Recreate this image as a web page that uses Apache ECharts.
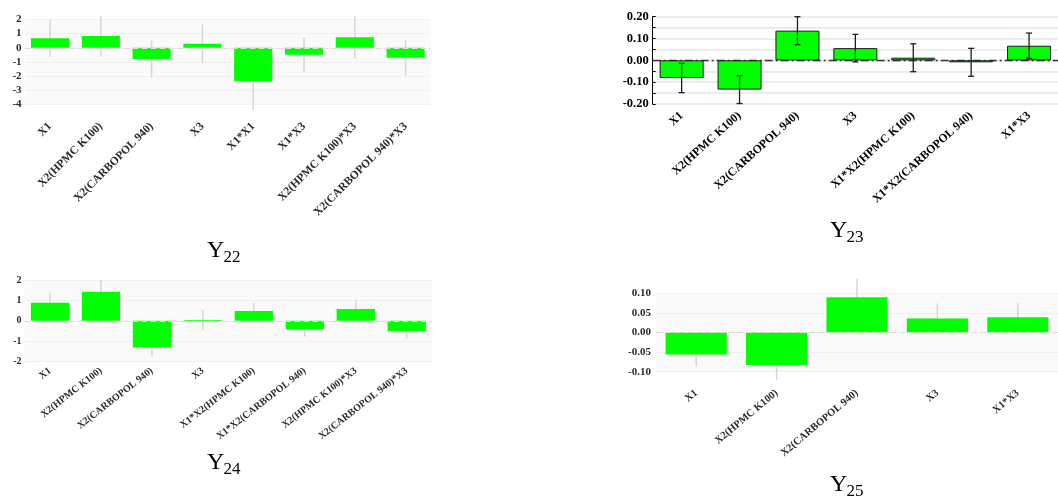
<!DOCTYPE html>
<html>
<head>
<meta charset="utf-8">
<script src="https://cdn.jsdelivr.net/npm/echarts@6/dist/echarts.min.js"></script>
<style>
  html, body { margin: 0; padding: 0; background: #fff; }
  #stage { position: relative; width: 1058px; height: 497px; overflow: hidden; }
  .panel { position: absolute; }
  .soft { filter: blur(0.75px); }
</style>
</head>
<body>
<div id="stage">
  <div id="titles" class="panel" style="left:0;top:0;width:1058px;height:497px"></div>
  <div id="p22" class="panel soft" style="left:0;top:0;width:529px;height:248px"></div>
  <div id="p23" class="panel" style="left:529px;top:0;width:529px;height:248px"></div>
  <div id="p24" class="panel soft" style="left:0;top:248px;width:529px;height:249px"></div>
  <div id="p25" class="panel soft" style="left:529px;top:248px;width:529px;height:249px"></div>
</div>
<script>
// ---- coefficient estimates (bars) and their error half-widths ----
const termsY22 = ['X1', 'X2(HPMC K100)', 'X2(CARBOPOL 940)', 'X3', 'X1*X1', 'X1*X3', 'X2(HPMC K100)*X3', 'X2(CARBOPOL 940)*X3'];
const effectY22 = [0.67, 0.83, -0.79, 0.28, -2.36, -0.49, 0.74, -0.70];
const errorY22 = [1.3, 1.45, 1.3, 1.35, 2.0, 1.2, 1.5, 1.25];
const axisY22 = [-4, 2, 1];            // min, max, step

const termsY23 = ['X1', 'X2(HPMC K100)', 'X2(CARBOPOL 940)', 'X3', 'X1*X2(HPMC K100)', 'X1*X2(CARBOPOL 940)', 'X1*X3'];
const effectY23 = [-0.081, -0.134, 0.136, 0.056, 0.012, -0.009, 0.067];
const errorY23 = [0.067, 0.064, 0.064, 0.063, 0.064, 0.064, 0.058];
const axisY23 = [-0.2, 0.2, 0.1];

const termsY24 = ['X1', 'X2(HPMC K100)', 'X2(CARBOPOL 940)', 'X3', 'X1*X2(HPMC K100)', 'X1*X2(CARBOPOL 940)', 'X2(HPMC K100)*X3', 'X2(CARBOPOL 940)*X3'];
const effectY24 = [0.89, 1.43, -1.30, 0.04, 0.48, -0.42, 0.58, -0.51];
const errorY24 = [0.5, 0.6, 0.45, 0.5, 0.4, 0.35, 0.45, 0.35];
const axisY24 = [-2, 2, 1];

const termsY25 = ['X1', 'X2(HPMC K100)', 'X2(CARBOPOL 940)', 'X3', 'X1*X3'];
const effectY25 = [-0.056, -0.083, 0.090, 0.036, 0.039];
const errorY25 = [0.03, 0.038, 0.048, 0.038, 0.037];
const axisY25 = [-0.1, 0.1, 0.05];

const responseSubs = ['22', '23', '24', '25'];

const SERIF = '"Liberation Serif", "Times New Roman", serif';

// vertical error bars drawn through the category centre
function errorBars(color, width, cap) {
  return function (params, api) {
    const i = api.value(0);
    const lo = api.coord([i, api.value(1)]);
    const hi = api.coord([i, api.value(2)]);
    const style = { stroke: color, lineWidth: width };
    const kids = [{ type: 'line', shape: { x1: lo[0], y1: lo[1], x2: hi[0], y2: hi[1] }, style }];
    if (cap > 0) {
      kids.push({ type: 'line', shape: { x1: lo[0] - cap, y1: lo[1], x2: lo[0] + cap, y2: lo[1] }, style });
      kids.push({ type: 'line', shape: { x1: hi[0] - cap, y1: hi[1], x2: hi[0] + cap, y2: hi[1] }, style });
    }
    return { type: 'group', children: kids };
  };
}

function errorData(vals, errs) {
  return vals.map((v, i) => [i, v - errs[i], v + errs[i]]);
}

// faded coefficient plot (no bar outlines, pale error lines)
function softPanel(id, terms, vals, errs, axis, L) {
  const chart = echarts.init(document.getElementById(id));
  chart.setOption({
    animation: false,
    grid: { left: L.left, right: L.right, top: L.top, bottom: L.bottom, show: true,
            backgroundColor: '#fafafa', borderWidth: 0 },
    xAxis: {
      type: 'category', data: terms,
      axisLine: { show: false }, axisTick: { show: false },
      axisLabel: { interval: 0, rotate: L.rotate, margin: L.xMargin, fontFamily: SERIF,
                   fontWeight: 'bold', fontSize: L.xFont, color: '#2a2a2a' }
    },
    yAxis: {
      type: 'value', min: axis[0], max: axis[1], interval: axis[2],
      axisLine: { show: false }, axisTick: { show: false },
      splitLine: { show: true, lineStyle: { color: '#f1f1f1', width: 1 } },
      axisLabel: { margin: L.yMargin, fontFamily: SERIF, fontWeight: 'bold', fontSize: L.yFont,
                   color: '#2a2a2a', formatter: L.fmt }
    },
    series: [
      { type: 'custom', renderItem: errorBars('#d6d6d6', 1.5, 0), data: errorData(vals, errs),
        encode: { x: 0, y: [1, 2] }, z: 1, silent: true },
      { type: 'bar', data: vals, barCategoryGap: L.gap, itemStyle: { color: '#00ff00' }, z: 2,
        markLine: { silent: true, symbol: 'none', label: { show: false },
                    lineStyle: { color: '#e2d8d8', width: 1, type: [6, 3] }, data: [{ yAxis: 0 }] } }
    ]
  });
}

softPanel('p22', termsY22, effectY22, errorY22, axisY22, {
  left: 24.6, right: 98, top: 19.4, bottom: 143.4, rotate: 45, xMargin: 20, xFont: 11.5,
  yMargin: 3, yFont: 11, gap: '25%', fmt: v => String(v)
});

softPanel('p24', termsY24, effectY24, errorY24, axisY24, {
  left: 24.5, right: 96.8, top: 32, bottom: 135.3, rotate: 38, xMargin: 8, xFont: 10,
  yMargin: 3, yFont: 10, gap: '25%', fmt: v => String(v)
});

softPanel('p25', termsY25, effectY25, errorY25, axisY25, {
  left: 127, right: -3, top: 45.3, bottom: 125.3, rotate: 40, xMargin: 20, xFont: 10.5,
  yMargin: 5, yFont: 11, gap: '24%', fmt: v => v.toFixed(2)
});

// crisp coefficient plot with outlined bars and capped error bars
(function () {
  const chart = echarts.init(document.getElementById('p23'));
  chart.setOption({
    animation: false,
    grid: { left: 123.7, right: -7.7, top: 16.7, bottom: 144 },
    xAxis: {
      type: 'category', data: termsY23,
      axisLine: { show: false }, axisTick: { show: false },
      axisLabel: { interval: 0, rotate: 42, margin: 10, fontFamily: SERIF, fontWeight: 'bold',
                   fontSize: 11.8, color: '#000' }
    },
    yAxis: {
      type: 'value', min: axisY23[0], max: axisY23[1], interval: axisY23[2],
      axisLine: { show: true, lineStyle: { color: '#000', width: 1 } },
      axisTick: { show: true, inside: true, length: 3, lineStyle: { color: '#000' } },
      minorTick: { show: true, splitNumber: 2, length: 3, lineStyle: { color: '#000' } },
      splitLine: { show: true, lineStyle: { color: '#e6e6e6', width: 1.5 } },
      minorSplitLine: { show: true, lineStyle: { color: '#e6e6e6', width: 1.5 } },
      axisLabel: { margin: 4, fontFamily: SERIF, fontWeight: 'bold', fontSize: 12.5, color: '#000',
                   formatter: v => v.toFixed(2) }
    },
    series: [
      { type: 'bar', data: effectY23, barCategoryGap: '24%', z: 2,
        itemStyle: { color: '#00ff00', borderColor: '#1a1a1a', borderWidth: 1 },
        markLine: { silent: true, symbol: 'none', label: { show: false }, z: 1,
                    lineStyle: { color: '#333', width: 1.3, type: [8, 3, 2, 3] }, data: [{ yAxis: 0 }] } },
      { type: 'custom', renderItem: errorBars('#1e1e1e', 1.3, 3), data: errorData(effectY23, errorY23),
        encode: { x: 0, y: [1, 2] }, z: 3, silent: true }
    ]
  });
})();

// response names under each panel: "Y" with a subscript number
(function () {
  const chart = echarts.init(document.getElementById('titles'));
  const anchors = [[207, 251], [830, 231], [207, 463], [830, 485]];
  const els = [];
  responseSubs.forEach((sub, k) => {
    const [x, y] = anchors[k];
    els.push({ type: 'text', x: x, y: y,
      style: { text: 'Y', font: '24px ' + SERIF, fill: '#000', textAlign: 'left', textVerticalAlign: 'middle' } });
    els.push({ type: 'text', x: x + 16.5, y: y + 6.5,
      style: { text: sub, font: '17px ' + SERIF, fill: '#000', textAlign: 'left', textVerticalAlign: 'middle' } });
  });
  chart.setOption({ animation: false, graphic: { elements: els } });
})();
</script>
</body>
</html>
